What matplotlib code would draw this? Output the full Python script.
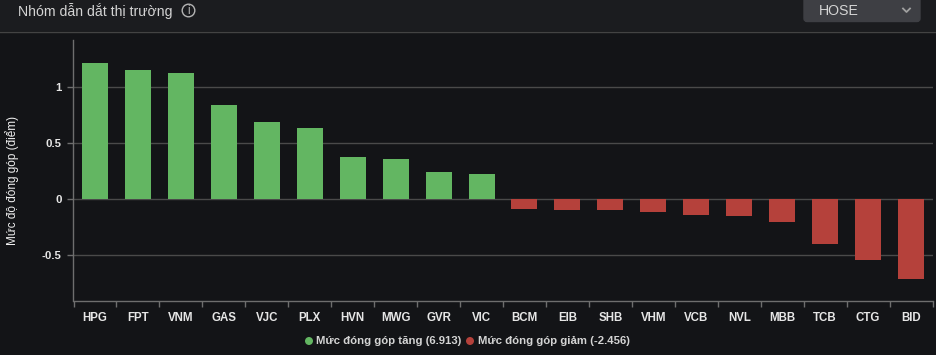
import matplotlib
matplotlib.use("Agg")
import matplotlib.pyplot as plt
from matplotlib.patches import Circle, FancyBboxPatch, Rectangle
from matplotlib.lines import Line2D
import numpy as np

plt.rcParams['font.family'] = ['Liberation Sans', 'DejaVu Sans']

tickers = ["HPG", "FPT", "VNM", "GAS", "VJC", "PLX", "HVN", "MWG", "GVR", "VIC",
           "BCM", "EIB", "SHB", "VHM", "VCB", "NVL", "MBB", "TCB", "CTG", "BID"]
values = [1.219, 1.156, 1.13, 0.84, 0.69, 0.64, 0.38, 0.36, 0.245, 0.228,
          -0.085, -0.095, -0.095, -0.11, -0.14, -0.145, -0.2, -0.4, -0.54, -0.71]
yticks = [-0.5, 0, 0.5, 1]
yticklabels = ["-0.5", "0", "0.5", "1"]
title = "Nhóm dẫn dắt thị trường"
ylabel = "Mức độ đóng góp (điểm)"
legend_up = "Mức đóng góp tăng (6.913)"
legend_down = "Mức đóng góp giảm (-2.456)"

W, H = 936, 355
bg = "#131417"
green = "#63b662"
red = "#b5413b"
grid = "#4a4a4a"
axis = "#6e6e6e"

fig = plt.figure(figsize=(W / 100, H / 100), dpi=100, facecolor=bg)

# header drawn in pixel coordinates
over = fig.add_axes([0, 0, 1, 1], zorder=0)
over.set_xlim(0, W)
over.set_ylim(H, 0)
over.axis("off")
over.add_patch(Rectangle((0, 0), W, 31, fc="#1b1c1f", ec="none"))
over.add_line(Line2D([0, W], [31.5, 31.5], color="#434343", lw=1))
over.text(18, 11, title, color="#d4d4d4", fontsize=10.05, va="center", ha="left")
over.add_patch(Circle((188.5, 10.5), 6.3, fc="none", ec="#b4b4b4", lw=1))
over.text(188.5, 10.7, "i", color="#b4b4b4", fontsize=8.5, va="center", ha="center")
over.add_patch(FancyBboxPatch((804, -6), 116, 27.5, boxstyle="round,pad=0,rounding_size=3",
                              fc="#3e3f44", ec="#3e3f44", lw=1))
over.text(819, 11, "HOSE", color="#d4d4d4", fontsize=10.2, va="center", ha="left")
over.add_line(Line2D([903, 906.5, 910], [8.5, 12, 8.5], color="#a0a0a0", lw=1.3))

# legend
over.add_patch(Circle((309, 341), 4, fc=green, ec="none"))
over.text(316.5, 341, legend_up, color="#d4d4d4", fontsize=8.2, va="center", ha="left",
          fontweight="bold")
over.add_patch(Circle((470, 341), 4, fc=red, ec="none"))
over.text(477.5, 341, legend_down, color="#d4d4d4", fontsize=8.2, va="center", ha="left",
          fontweight="bold")
over.text(12.5, 180, ylabel, color="#f0f0f0", fontsize=8.5, rotation=90, va="center", ha="center")

# plot area
left, right, top, bottom = 73.5, 932.5, 40, 300.5
ax = fig.add_axes([left / W, 1 - bottom / H, (right - left) / W, (bottom - top) / H], zorder=1)
ax.set_facecolor("none")

# spine position resets the ticks, so it has to come before the tick setup
for s in ["top", "right"]:
    ax.spines[s].set_visible(False)
for s in ["left", "bottom"]:
    ax.spines[s].set_color(axis)
    ax.spines[s].set_linewidth(1)
ax.spines["left"].set_position(("outward", 0.72))

x = np.arange(len(tickers))
colors = [green if v > 0 else red for v in values]
ax.bar(x, values, width=0.605, color=colors, zorder=3)
ax.set_xlim(-0.5, len(tickers) - 0.5)
ax.set_ylim(-0.902, 1.424)

ax.set_yticks(yticks)
ax.set_yticklabels(yticklabels, color="#e6e6e6", fontsize=8.2, fontweight="bold")
ax.tick_params(axis="y", length=4.3, width=1, color=axis, pad=3.5)
ax.grid(axis="y", color=grid, lw=1, zorder=0)

ax.set_xticks(x)
ax.set_xticklabels(tickers, color="#e6e6e6", fontsize=8.3, fontweight="bold")
ax.set_xticks(np.arange(len(tickers) + 1) - 0.5, minor=True)
ax.tick_params(axis="x", which="major", length=0, pad=8.5)
ax.tick_params(axis="x", which="minor", length=4.5, width=1, color=axis)

plt.savefig("out.png", dpi=100, facecolor=fig.get_facecolor())
